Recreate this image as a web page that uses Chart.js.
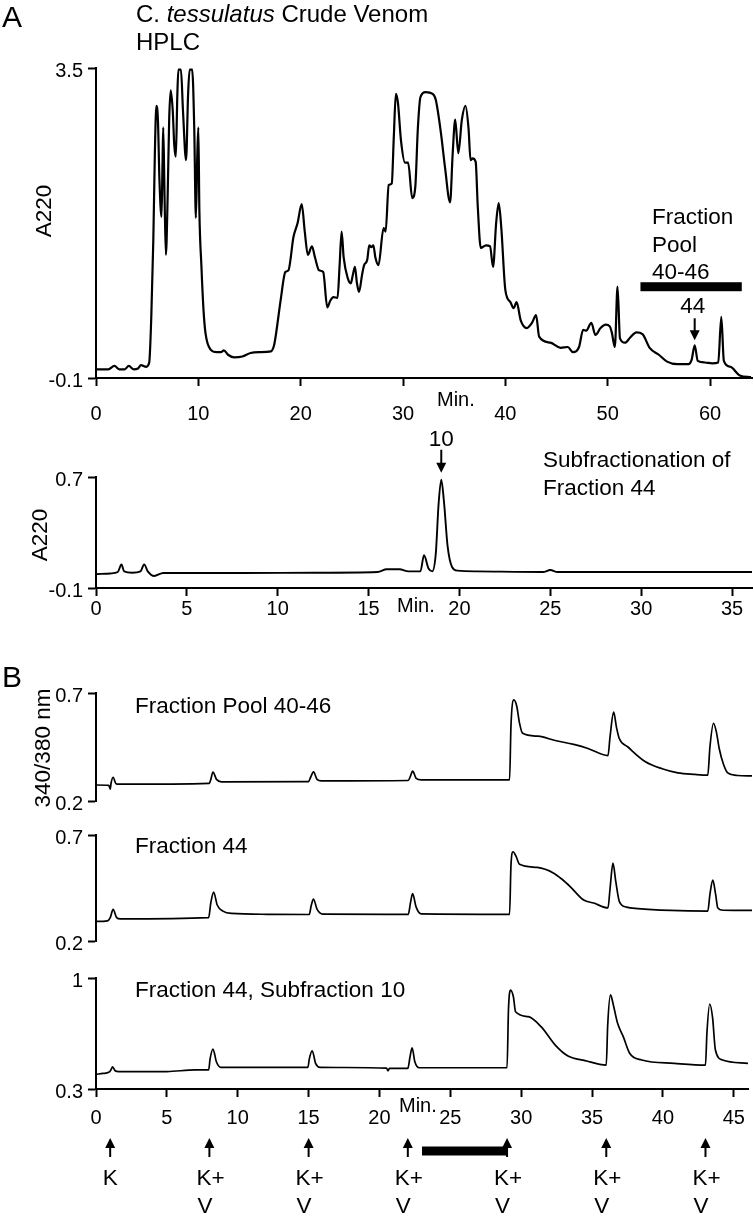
<!DOCTYPE html>
<html>
<head>
<meta charset="utf-8">
<script src="https://cdn.jsdelivr.net/npm/chart.js@4.4.0/dist/chart.umd.min.js"></script>
<style>
  html, body { margin: 0; padding: 0; background: #fff; }
  #fig { position: relative; width: 754px; height: 1216px; }
  #fig canvas { position: absolute; left: 0; }
</style>
</head>
<body>
<div id="fig">
  <canvas id="hplc" width="754" height="425" style="top:0px"></canvas>
  <canvas id="subfrac" width="754" height="205" style="top:425px"></canvas>
  <canvas id="ratioPool" width="754" height="188" style="top:630px"></canvas>
  <canvas id="ratio44" width="754" height="140" style="top:818px"></canvas>
  <canvas id="ratio10" width="754" height="258" style="top:958px"></canvas>
</div>
<script>
// ---- Panel A : crude venom HPLC (time in min, A220) ----
const hplcTime = [0, 1.2, 1.8, 2.3, 2.8, 3.2, 3.7, 4.1, 4.4, 4.9, 5.2, 5.4, 5.6, 5.75, 5.9, 6.05, 6.2, 6.4, 6.5, 6.57,
  6.7, 6.83, 7.0, 7.15, 7.3, 7.5, 7.65, 7.8, 7.95, 8.05, 8.3, 8.5, 8.8, 9.0, 9.15, 9.4, 9.6, 9.76, 9.9, 10.0,
  10.1, 10.3, 10.5, 10.7, 11.2, 11.8, 12.2, 12.5, 12.9, 13.5, 14.3, 15.1, 16.0, 17.1, 17.4, 17.6, 18.05, 18.5, 18.8, 19.3,
  19.7, 20.1, 20.4, 20.7, 21.1, 21.4, 21.8, 22.2, 22.6, 22.9, 23.2, 23.6, 23.8, 24.0, 24.2, 24.6, 24.9, 25.1, 25.3, 25.5,
  25.7, 26.0, 26.2, 26.5, 26.7, 26.9, 27.1, 27.3, 27.6, 28.1, 28.3, 28.6, 28.9, 29.1, 29.3, 29.5, 29.8, 30.2, 30.5, 30.9,
  31.2, 31.45, 31.7, 32.2, 32.9, 33.2, 33.7, 34.1, 34.6, 34.85, 35.1, 35.4, 35.75, 36.1, 36.4, 36.6, 36.8, 37.1, 37.3, 37.6,
  38.1, 38.5, 38.8, 39.1, 39.35, 39.6, 40.0, 40.5, 40.8, 41.1, 41.5, 42.1, 42.6, 43.0, 43.3, 44.4, 45.4, 46.1, 46.6, 47.2,
  47.6, 47.9, 48.4, 48.8, 49.3, 49.8, 50.2, 50.4, 50.7, 50.96, 51.2, 51.7, 52.2, 52.8, 53.4, 54.1, 55.0, 55.8, 56.8, 57.9,
  58.2, 58.5, 58.8, 59.5, 60.2, 60.8, 61.1, 61.35, 62.0, 62.9, 64.0];
const hplcA220 = [0.0, 0.0, 0.04, 0.0, 0.0, 0.04, 0.0, 0.01, 0.05, 0.03, 0.08, 0.6, 1.5, 2.5, 3.06, 2.9, 2.2, 1.77, 2.4, 2.81,
  2.0, 1.33, 2.0, 2.9, 3.24, 3.0, 2.6, 2.47, 3.2, 3.48, 3.48, 3.0, 2.43, 3.2, 3.48, 3.48, 2.8, 1.76, 2.5, 2.81,
  1.85, 1.2, 0.7, 0.42, 0.23, 0.2, 0.2, 0.22, 0.17, 0.14, 0.15, 0.19, 0.2, 0.21, 0.28, 0.42, 0.81, 1.13, 1.15, 1.54,
  1.7, 1.92, 1.6, 1.33, 1.43, 1.3, 1.15, 1.13, 0.72, 0.8, 0.84, 0.83, 1.2, 1.6, 1.3, 1.06, 1.0, 1.1, 1.19, 1.0,
  0.9, 1.1, 1.21, 1.27, 1.44, 1.42, 1.44, 1.3, 1.21, 1.64, 1.6, 2.14, 2.16, 2.7, 3.2, 3.1, 2.66, 2.4, 2.4, 1.99,
  2.12, 2.8, 3.16, 3.22, 3.2, 3.13, 2.75, 2.35, 1.94, 2.5, 2.9, 2.51, 2.9, 3.06, 2.8, 2.43, 2.45, 2.41, 1.9, 1.41,
  1.44, 1.43, 1.19, 1.7, 1.93, 1.65, 0.92, 0.78, 0.71, 0.78, 0.57, 0.48, 0.54, 0.63, 0.38, 0.31, 0.25, 0.26, 0.2, 0.26,
  0.46, 0.45, 0.54, 0.4, 0.48, 0.52, 0.5, 0.43, 0.26, 0.96, 0.36, 0.31, 0.37, 0.43, 0.41, 0.25, 0.17, 0.09, 0.06, 0.06,
  0.11, 0.28, 0.1, 0.08, 0.07, 0.08, 0.61, 0.1, 0.03, -0.07, -0.09];
const hplcXTicks = [0, 10, 20, 30, 40, 50, 60];
const hplcYTicks = [-0.1, 3.5];
const poolBar = [53.2, 63.1];      // fraction pool 40-46 (min)
const poolBarLevel = 0.96;         // A220 level of the bar
const fraction44Time = 58.5;
const fraction44Peak = 0.28;

// ---- Subfractionation of fraction 44 ----
const subTime = [0, 0.8, 1.2, 1.4, 1.55, 2.0, 2.45, 2.65, 2.85, 3.2, 3.7, 8, 12, 15.5, 16.0, 16.7, 17.2, 17.85, 18.05, 18.3,
  18.5, 18.7, 18.85, 19.0, 19.15, 19.35, 19.6, 19.9, 21, 24.6, 25.0, 25.4, 36.1];
const subA220 = [0.0, 0.005, 0.015, 0.07, 0.02, 0.01, 0.02, 0.07, 0.02, -0.013, 0.008, 0.008, 0.01, 0.015, 0.035, 0.035, 0.02, 0.02, 0.136, 0.04,
  0.02, 0.15, 0.5, 0.68, 0.52, 0.2, 0.05, 0.025, 0.02, 0.015, 0.03, 0.015, 0.015];
const subXTicks = [0, 5, 10, 15, 20, 25, 30, 35];
const subYTicks = [-0.1, 0.7];
const sub10Time = 19.0;
const sub10Peak = 0.68;

// ---- Panel B : Fura-2 ratio traces ----
const poolTime = [0, 0.9, 1.0, 1.05, 1.2, 1.4, 1.6, 7.95, 8.05, 8.2, 8.45, 8.8, 14.9, 15.05, 15.25, 15.5, 15.8, 21.9, 22.05, 22.2,
  22.45, 22.8, 29.0, 29.1, 29.3, 29.5, 29.7, 29.9, 31, 32.2, 33.5, 34.5, 35.9, 36.05, 36.3, 36.5, 36.7, 37.3, 38.5, 39.7,
  40.8, 42.0, 42.9, 43.05, 43.3, 43.5, 43.7, 44.0, 44.3, 45.0, 46.0];
const poolRatio = [0.274, 0.272, 0.255, 0.28, 0.31, 0.28, 0.278, 0.282, 0.30, 0.334, 0.3, 0.289, 0.29, 0.31, 0.335, 0.3, 0.293, 0.295, 0.315, 0.338,
  0.305, 0.298, 0.298, 0.55, 0.668, 0.64, 0.56, 0.515, 0.5, 0.48, 0.462, 0.443, 0.41, 0.5, 0.611, 0.54, 0.488, 0.45, 0.383, 0.349,
  0.33, 0.323, 0.32, 0.45, 0.56, 0.52, 0.443, 0.37, 0.33, 0.318, 0.316];

const f44Time = [0, 0.8, 1.0, 1.2, 1.45, 1.7, 7.9, 8.05, 8.25, 8.5, 8.9, 9.5, 12, 14.95, 15.1, 15.25, 15.5, 15.9, 21.9, 22.05,
  22.2, 22.45, 22.8, 29.0, 29.1, 29.25, 29.45, 29.7, 30.95, 32.1, 32.7, 33.3, 34.2, 34.9, 35.9, 36.05, 36.25, 36.45, 36.7, 37.2,
  38.0, 40.3, 42.9, 43.05, 43.25, 43.45, 43.6, 44, 46];
const f44Ratio = [0.292, 0.295, 0.31, 0.349, 0.31, 0.304, 0.31, 0.38, 0.431, 0.37, 0.341, 0.33, 0.326, 0.325, 0.37, 0.398, 0.35, 0.327, 0.326, 0.38,
  0.423, 0.36, 0.328, 0.326, 0.56, 0.621, 0.6, 0.562, 0.547, 0.52, 0.49, 0.453, 0.393, 0.379, 0.356, 0.45, 0.567, 0.48, 0.386, 0.36,
  0.353, 0.344, 0.341, 0.42, 0.487, 0.42, 0.356, 0.345, 0.344];

const s10Time = [0, 0.5, 0.9, 1.05, 1.17, 1.35, 1.6, 5, 7.0, 7.95, 8.05, 8.25, 8.5, 8.8, 14.95, 15.05, 15.25, 15.5, 15.8, 20.5,
  20.6, 20.7, 22.0, 22.15, 22.3, 22.5, 22.8, 29.0, 29.1, 29.25, 29.45, 29.6, 30.5, 31.4, 32.4, 33.3, 34.5, 36.0, 36.1, 36.3,
  36.5, 36.8, 37.2, 37.65, 38.5, 40.8, 43.0, 43.1, 43.3, 43.5, 43.7, 44.2, 46];
const s10Ratio = [0.393, 0.398, 0.405, 0.42, 0.44, 0.415, 0.409, 0.41, 0.42, 0.42, 0.49, 0.552, 0.47, 0.437, 0.437, 0.49, 0.541, 0.46, 0.437, 0.432,
  0.415, 0.43, 0.43, 0.5, 0.56, 0.47, 0.434, 0.434, 0.8, 0.924, 0.88, 0.787, 0.756, 0.693, 0.577, 0.508, 0.479, 0.451, 0.7, 0.893,
  0.83, 0.714, 0.63, 0.525, 0.483, 0.462, 0.451, 0.65, 0.836, 0.75, 0.546, 0.483, 0.462];

const ratioXTicks = [0, 5, 10, 15, 20, 25, 30, 35, 40, 45];
const poolYTicks = [0.2, 0.7];
const f44YTicks = [0.2, 0.7];
const s10YTicks = [0.3, 1];
const stimTimes = [1, 8, 15, 22, 29, 36, 43];
const stimLabels = ['K', 'K+', 'K+', 'K+', 'K+', 'K+', 'K+'];
const venomBar = [23, 29];

const FONT = '"Liberation Sans", Arial, Helvetica, sans-serif';
const NOTE = 22.5;
Chart.defaults.font.family = FONT;
Chart.defaults.color = '#000';

function text(ctx, s, x, y, size, align, style) {
  ctx.save();
  ctx.fillStyle = '#000';
  ctx.font = (style ? style + ' ' : '') + size + 'px ' + FONT;
  ctx.textAlign = align || 'left';
  ctx.textBaseline = 'alphabetic';
  ctx.fillText(s, x, y);
  ctx.restore();
}

function vtext(ctx, s, cx, cy, size) {
  ctx.save();
  ctx.translate(cx, cy);
  ctx.rotate(-Math.PI / 2);
  ctx.fillStyle = '#000';
  ctx.font = size + 'px ' + FONT;
  ctx.textAlign = 'center';
  ctx.textBaseline = 'middle';
  ctx.fillText(s, 0, 0);
  ctx.restore();
}

// vertical arrow, tip at yTip
function arrow(ctx, x, yTail, yTip) {
  const dir = yTip > yTail ? 1 : -1;
  ctx.save();
  ctx.strokeStyle = '#000';
  ctx.fillStyle = '#000';
  ctx.lineWidth = 2;
  ctx.beginPath();
  ctx.moveTo(x, yTail);
  ctx.lineTo(x, yTip - dir * 7);
  ctx.stroke();
  ctx.beginPath();
  ctx.moveTo(x - 5, yTip - dir * 10);
  ctx.lineTo(x + 5, yTip - dir * 10);
  ctx.lineTo(x, yTip);
  ctx.closePath();
  ctx.fill();
  ctx.restore();
}

function traceChart(id, o) {
  const tickGrid = { drawOnChartArea: false, drawTicks: true, tickLength: 8, tickColor: '#000', tickWidth: 2 };
  const axisBorder = { display: true, color: '#000', width: 2 };
  return new Chart(document.getElementById(id), {
    type: 'line',
    data: {
      datasets: [{
        data: o.times.map((t, i) => ({ x: t, y: o.values[i] })),
        borderColor: '#000',
        borderWidth: o.lineWidth,
        pointRadius: 0,
        cubicInterpolationMode: 'monotone',
        fill: false
      }]
    },
    options: {
      responsive: false,
      animation: false,
      devicePixelRatio: 1,
      layout: { padding: o.padding },
      plugins: { legend: { display: false }, tooltip: { enabled: false } },
      scales: {
        x: {
          type: 'linear',
          min: o.xMin, max: o.xMax,
          display: o.showX,
          afterBuildTicks: s => { s.ticks = o.xTicks.map(v => ({ value: v })); },
          afterFit: s => { s.height = o.xHeight; },
          grid: tickGrid,
          border: axisBorder,
          ticks: { color: '#000', font: { size: 20 }, padding: o.xLabelPad, maxRotation: 0, autoSkip: false,
                   callback: v => String(v) }
        },
        y: {
          type: 'linear',
          min: o.yTicks[0], max: o.yTicks[o.yTicks.length - 1],
          afterBuildTicks: s => { s.ticks = o.yTicks.map(v => ({ value: v })); },
          afterFit: s => { s.width = 96; },
          grid: tickGrid,
          border: axisBorder,
          ticks: { color: '#000', font: { size: 20 }, padding: 5, labelOffset: 3,
                   callback: v => String(v) }
        }
      }
    },
    plugins: [{ id: 'notes', afterDraw: o.notes }]
  });
}

// Panel A, crude venom
traceChart('hplc', {
  times: hplcTime, values: hplcA220, lineWidth: 2.2,
  xMin: 0, xMax: 64.1, xTicks: hplcXTicks, yTicks: hplcYTicks,
  padding: { top: 68, right: 2, left: 0, bottom: 0 }, xHeight: 47, xLabelPad: 16, showX: true,
  notes: chart => {
    const ctx = chart.ctx, xs = chart.scales.x, ys = chart.scales.y;
    text(ctx, 'A', 2, 27, 30);
    ctx.save();
    ctx.font = '24px ' + FONT;
    let x = 136;
    text(ctx, 'C. ', x, 22, 24); x += ctx.measureText('C. ').width;
    ctx.font = 'italic 24px ' + FONT;
    text(ctx, 'tessulatus', x, 22, 24, 'left', 'italic'); x += ctx.measureText('tessulatus').width;
    ctx.restore();
    text(ctx, ' Crude Venom', x, 22, 24);
    text(ctx, 'HPLC', 136, 50, 24);
    vtext(ctx, 'A220', 45, 211, NOTE);
    text(ctx, 'Min.', 437, 406, 20);
    text(ctx, 'Fraction', 652, 224, NOTE);
    text(ctx, 'Pool', 652, 252, NOTE);
    text(ctx, '40-46', 652, 279, NOTE);
    const by = ys.getPixelForValue(poolBarLevel);
    ctx.fillStyle = '#000';
    ctx.fillRect(xs.getPixelForValue(poolBar[0]), by - 4.5, xs.getPixelForValue(poolBar[1]) - xs.getPixelForValue(poolBar[0]), 9);
    const px = xs.getPixelForValue(fraction44Time), py = ys.getPixelForValue(fraction44Peak);
    arrow(ctx, px, py - 27, py - 5);
    text(ctx, '44', px - 2, py - 32, NOTE, 'center');
  }
});

// Subfractionation of fraction 44
traceChart('subfrac', {
  times: subTime, values: subA220, lineWidth: 1.9,
  xMin: 0, xMax: 36.1, xTicks: subXTicks, yTicks: subYTicks,
  padding: { top: 52, right: 2, left: 0, bottom: 0 }, xHeight: 42, xLabelPad: 1, showX: true,
  notes: chart => {
    const ctx = chart.ctx, xs = chart.scales.x, ys = chart.scales.y;
    const px = xs.getPixelForValue(sub10Time), py = ys.getPixelForValue(sub10Peak);
    arrow(ctx, px, py - 30, py - 7);
    text(ctx, '10', px, py - 34, NOTE, 'center');
    text(ctx, 'Subfractionation of', 543, 42, NOTE);
    text(ctx, 'Fraction 44', 543, 70, NOTE);
    vtext(ctx, 'A220', 41, 110, NOTE);
    text(ctx, 'Min.', 397, 187, 20);
  }
});

// Panel B, ratio traces
traceChart('ratioPool', {
  times: poolTime, values: poolRatio, lineWidth: 1.7,
  xMin: 0, xMax: 46, xTicks: ratioXTicks, yTicks: poolYTicks,
  padding: { top: 63, right: 2, left: 0, bottom: 14 }, xHeight: 0, xLabelPad: 0, showX: false,
  notes: chart => {
    const ctx = chart.ctx;
    text(ctx, 'B', 2, 57, 30);
    vtext(ctx, '340/380 nm', 44, 118, NOTE);
    text(ctx, 'Fraction Pool 40-46', 135, 83, NOTE);
  }
});

traceChart('ratio44', {
  times: f44Time, values: f44Ratio, lineWidth: 1.7,
  xMin: 0, xMax: 46, xTicks: ratioXTicks, yTicks: f44YTicks,
  padding: { top: 15, right: 2, left: 0, bottom: 13 }, xHeight: 0, xLabelPad: 0, showX: false,
  notes: chart => {
    text(chart.ctx, 'Fraction 44', 135, 35, NOTE);
  }
});

traceChart('ratio10', {
  times: s10Time, values: s10Ratio, lineWidth: 1.7,
  xMin: 0, xMax: 46, xTicks: ratioXTicks, yTicks: s10YTicks,
  padding: { top: 20, right: 2, left: 0, bottom: 0 }, xHeight: 127, xLabelPad: 9, showX: true,
  notes: chart => {
    const ctx = chart.ctx, xs = chart.scales.x;
    text(ctx, 'Fraction 44, Subfraction 10', 135, 39, NOTE);
    text(ctx, 'Min.', 399, 154, 20);
    ctx.fillStyle = '#000';
    ctx.fillRect(xs.getPixelForValue(venomBar[0]), 188.5, xs.getPixelForValue(venomBar[1]) - xs.getPixelForValue(venomBar[0]), 9);
    stimTimes.forEach((t, i) => {
      const x = xs.getPixelForValue(t);
      arrow(ctx, x, 199, 180);
      if (stimLabels[i] === 'K') {
        text(ctx, 'K', x, 227, NOTE, 'center');
      } else {
        text(ctx, stimLabels[i], x - 13, 227, NOTE);
        text(ctx, 'V', x - 12, 255, NOTE);
      }
    });
  }
});
</script>
</body>
</html>
